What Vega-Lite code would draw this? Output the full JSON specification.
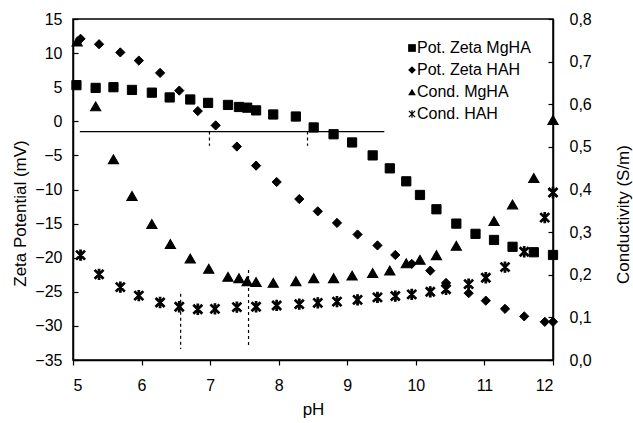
{
  "$schema": "https://vega.github.io/schema/vega-lite/v6.json",
  "autosize": {"type": "none"},
  "padding": {"left": 73, "top": 19, "right": 80, "bottom": 63},
  "width": 480,
  "height": 341,
  "background": "white",
  "config": {
    "view": {"stroke": "black", "strokeWidth": 1.5},
    "font": "Liberation Sans",
    "axis": {"grid": false, "domainColor": "black", "tickColor": "black", "labelColor": "black", "titleColor": "black", "labelFont": "Liberation Sans", "titleFont": "Liberation Sans", "labelFontSize": 16, "titleFontSize": 17, "titleFontWeight": "normal", "domainWidth": 1.5, "tickWidth": 1.2, "labelOverlap": false}
  },
  "datasets": {
    "zeta": [
      {"pH": 5.05, "zeta": 5.3, "series": "Pot. Zeta MgHA"},
      {"pH": 5.33, "zeta": 4.9, "series": "Pot. Zeta MgHA"},
      {"pH": 5.59, "zeta": 5.0, "series": "Pot. Zeta MgHA"},
      {"pH": 5.86, "zeta": 4.6, "series": "Pot. Zeta MgHA"},
      {"pH": 6.15, "zeta": 4.2, "series": "Pot. Zeta MgHA"},
      {"pH": 6.41, "zeta": 3.5, "series": "Pot. Zeta MgHA"},
      {"pH": 6.71, "zeta": 3.2, "series": "Pot. Zeta MgHA"},
      {"pH": 6.97, "zeta": 2.7, "series": "Pot. Zeta MgHA"},
      {"pH": 7.26, "zeta": 2.4, "series": "Pot. Zeta MgHA"},
      {"pH": 7.42, "zeta": 2.1, "series": "Pot. Zeta MgHA"},
      {"pH": 7.54, "zeta": 2.0, "series": "Pot. Zeta MgHA"},
      {"pH": 7.67, "zeta": 1.6, "series": "Pot. Zeta MgHA"},
      {"pH": 7.92, "zeta": 1.0, "series": "Pot. Zeta MgHA"},
      {"pH": 8.25, "zeta": 0.7, "series": "Pot. Zeta MgHA"},
      {"pH": 8.51, "zeta": -0.9, "series": "Pot. Zeta MgHA"},
      {"pH": 8.80, "zeta": -1.9, "series": "Pot. Zeta MgHA"},
      {"pH": 9.07, "zeta": -3.1, "series": "Pot. Zeta MgHA"},
      {"pH": 9.37, "zeta": -5.0, "series": "Pot. Zeta MgHA"},
      {"pH": 9.62, "zeta": -6.9, "series": "Pot. Zeta MgHA"},
      {"pH": 9.86, "zeta": -8.8, "series": "Pot. Zeta MgHA"},
      {"pH": 10.06, "zeta": -10.8, "series": "Pot. Zeta MgHA"},
      {"pH": 10.30, "zeta": -12.9, "series": "Pot. Zeta MgHA"},
      {"pH": 10.59, "zeta": -15.0, "series": "Pot. Zeta MgHA"},
      {"pH": 10.87, "zeta": -16.5, "series": "Pot. Zeta MgHA"},
      {"pH": 11.14, "zeta": -17.4, "series": "Pot. Zeta MgHA"},
      {"pH": 11.41, "zeta": -18.4, "series": "Pot. Zeta MgHA"},
      {"pH": 11.72, "zeta": -19.2, "series": "Pot. Zeta MgHA"},
      {"pH": 12.0, "zeta": -19.6, "series": "Pot. Zeta MgHA"},
      {"pH": 5.11, "zeta": 12.1, "series": "Pot. Zeta HAH"},
      {"pH": 5.38, "zeta": 11.3, "series": "Pot. Zeta HAH"},
      {"pH": 5.69, "zeta": 10.1, "series": "Pot. Zeta HAH"},
      {"pH": 5.96, "zeta": 8.9, "series": "Pot. Zeta HAH"},
      {"pH": 6.27, "zeta": 7.1, "series": "Pot. Zeta HAH"},
      {"pH": 6.55, "zeta": 4.5, "series": "Pot. Zeta HAH"},
      {"pH": 6.82, "zeta": 1.5, "series": "Pot. Zeta HAH"},
      {"pH": 7.08, "zeta": -0.6, "series": "Pot. Zeta HAH"},
      {"pH": 7.39, "zeta": -3.7, "series": "Pot. Zeta HAH"},
      {"pH": 7.67, "zeta": -6.5, "series": "Pot. Zeta HAH"},
      {"pH": 7.97, "zeta": -8.9, "series": "Pot. Zeta HAH"},
      {"pH": 8.30, "zeta": -11.4, "series": "Pot. Zeta HAH"},
      {"pH": 8.57, "zeta": -13.2, "series": "Pot. Zeta HAH"},
      {"pH": 8.85, "zeta": -14.9, "series": "Pot. Zeta HAH"},
      {"pH": 9.15, "zeta": -16.6, "series": "Pot. Zeta HAH"},
      {"pH": 9.44, "zeta": -18.2, "series": "Pot. Zeta HAH"},
      {"pH": 9.70, "zeta": -19.6, "series": "Pot. Zeta HAH"},
      {"pH": 9.94, "zeta": -20.9, "series": "Pot. Zeta HAH"},
      {"pH": 10.21, "zeta": -21.9, "series": "Pot. Zeta HAH"},
      {"pH": 10.44, "zeta": -23.7, "series": "Pot. Zeta HAH"},
      {"pH": 10.77, "zeta": -25.2, "series": "Pot. Zeta HAH"},
      {"pH": 11.02, "zeta": -26.3, "series": "Pot. Zeta HAH"},
      {"pH": 11.30, "zeta": -27.5, "series": "Pot. Zeta HAH"},
      {"pH": 11.58, "zeta": -28.6, "series": "Pot. Zeta HAH"},
      {"pH": 11.88, "zeta": -29.4, "series": "Pot. Zeta HAH"},
      {"pH": 12.0, "zeta": -29.4, "series": "Pot. Zeta HAH"}
    ],
    "cond": [
      {"pH": 5.06, "cond": 0.747, "series": "Cond. MgHA"},
      {"pH": 5.33, "cond": 0.595, "series": "Cond. MgHA"},
      {"pH": 5.59, "cond": 0.471, "series": "Cond. MgHA"},
      {"pH": 5.86, "cond": 0.385, "series": "Cond. MgHA"},
      {"pH": 6.15, "cond": 0.319, "series": "Cond. MgHA"},
      {"pH": 6.42, "cond": 0.272, "series": "Cond. MgHA"},
      {"pH": 6.71, "cond": 0.238, "series": "Cond. MgHA"},
      {"pH": 6.98, "cond": 0.214, "series": "Cond. MgHA"},
      {"pH": 7.26, "cond": 0.195, "series": "Cond. MgHA"},
      {"pH": 7.42, "cond": 0.192, "series": "Cond. MgHA"},
      {"pH": 7.54, "cond": 0.185, "series": "Cond. MgHA"},
      {"pH": 7.67, "cond": 0.183, "series": "Cond. MgHA"},
      {"pH": 7.92, "cond": 0.181, "series": "Cond. MgHA"},
      {"pH": 8.25, "cond": 0.185, "series": "Cond. MgHA"},
      {"pH": 8.51, "cond": 0.192, "series": "Cond. MgHA"},
      {"pH": 8.80, "cond": 0.192, "series": "Cond. MgHA"},
      {"pH": 9.07, "cond": 0.198, "series": "Cond. MgHA"},
      {"pH": 9.37, "cond": 0.204, "series": "Cond. MgHA"},
      {"pH": 9.62, "cond": 0.210, "series": "Cond. MgHA"},
      {"pH": 9.86, "cond": 0.227, "series": "Cond. MgHA"},
      {"pH": 10.06, "cond": 0.235, "series": "Cond. MgHA"},
      {"pH": 10.30, "cond": 0.246, "series": "Cond. MgHA"},
      {"pH": 10.59, "cond": 0.268, "series": "Cond. MgHA"},
      {"pH": 11.14, "cond": 0.326, "series": "Cond. MgHA"},
      {"pH": 11.41, "cond": 0.365, "series": "Cond. MgHA"},
      {"pH": 11.72, "cond": 0.427, "series": "Cond. MgHA"},
      {"pH": 12.0, "cond": 0.563, "series": "Cond. MgHA"},
      {"pH": 5.11, "cond": 0.246, "series": "Cond. HAH"},
      {"pH": 5.38, "cond": 0.201, "series": "Cond. HAH"},
      {"pH": 5.69, "cond": 0.171, "series": "Cond. HAH"},
      {"pH": 5.96, "cond": 0.151, "series": "Cond. HAH"},
      {"pH": 6.27, "cond": 0.135, "series": "Cond. HAH"},
      {"pH": 6.55, "cond": 0.125, "series": "Cond. HAH"},
      {"pH": 6.82, "cond": 0.119, "series": "Cond. HAH"},
      {"pH": 7.07, "cond": 0.120, "series": "Cond. HAH"},
      {"pH": 7.39, "cond": 0.124, "series": "Cond. HAH"},
      {"pH": 7.67, "cond": 0.125, "series": "Cond. HAH"},
      {"pH": 7.97, "cond": 0.128, "series": "Cond. HAH"},
      {"pH": 8.30, "cond": 0.131, "series": "Cond. HAH"},
      {"pH": 8.57, "cond": 0.134, "series": "Cond. HAH"},
      {"pH": 8.85, "cond": 0.137, "series": "Cond. HAH"},
      {"pH": 9.15, "cond": 0.141, "series": "Cond. HAH"},
      {"pH": 9.44, "cond": 0.147, "series": "Cond. HAH"},
      {"pH": 9.70, "cond": 0.150, "series": "Cond. HAH"},
      {"pH": 9.94, "cond": 0.154, "series": "Cond. HAH"},
      {"pH": 10.21, "cond": 0.160, "series": "Cond. HAH"},
      {"pH": 10.44, "cond": 0.166, "series": "Cond. HAH"},
      {"pH": 10.77, "cond": 0.178, "series": "Cond. HAH"},
      {"pH": 11.02, "cond": 0.193, "series": "Cond. HAH"},
      {"pH": 11.30, "cond": 0.218, "series": "Cond. HAH"},
      {"pH": 11.58, "cond": 0.254, "series": "Cond. HAH"},
      {"pH": 11.88, "cond": 0.334, "series": "Cond. HAH"},
      {"pH": 12.0, "cond": 0.393, "series": "Cond. HAH"}
    ],
    "hline": [{"pH": 5.1, "pH2": 9.54, "zeta": -1.5}],
    "vlines": [
      {"pH": 6.99, "zeta": -1.5, "zeta2": -3.6},
      {"pH": 8.42, "zeta": -1.5, "zeta2": -3.6},
      {"pH": 6.57, "zeta": -25.3, "zeta2": -33.4},
      {"pH": 7.56, "zeta": -21.8, "zeta2": -33.1}
    ]
  },
  "layer": [
    {
      "layer": [
        {
          "data": {"name": "hline"},
          "mark": {"type": "rule", "color": "black", "strokeWidth": 1.2},
          "encoding": {
            "x": {"field": "pH", "type": "quantitative", "scale": {"domain": [5, 12], "nice": false, "zero": false}, "axis": {"title": "pH", "values": [5, 6, 7, 8, 9, 10, 11, 12], "format": "d", "tickSize": 5, "labelPadding": 12, "titleY": 49, "titleBaseline": "middle", "labelOverlap": false}},
            "x2": {"field": "pH2"},
            "y": {"field": "zeta", "type": "quantitative", "scale": {"domain": [-35, 15], "nice": false, "zero": false}, "axis": {"title": "Zeta Potential (mV)", "values": [-35, -30, -25, -20, -15, -10, -5, 0, 5, 10, 15], "format": "d", "tickSize": -5, "labelPadding": 16, "titleX": -53, "titleY": 194, "titleBaseline": "middle", "titleAngle": -90, "labelOverlap": false}}
          }
        },
        {
          "data": {"name": "vlines"},
          "mark": {"type": "rule", "color": "black", "strokeWidth": 1.2, "strokeDash": [3, 3]},
          "encoding": {
            "x": {"field": "pH", "type": "quantitative", "scale": {"domain": [5, 12], "nice": false, "zero": false}, "axis": {"title": "pH", "values": [5, 6, 7, 8, 9, 10, 11, 12], "format": "d", "tickSize": 5, "labelPadding": 12, "titleY": 49, "titleBaseline": "middle", "labelOverlap": false}},
            "y": {"field": "zeta", "type": "quantitative", "scale": {"domain": [-35, 15], "nice": false, "zero": false}, "axis": {"title": "Zeta Potential (mV)", "values": [-35, -30, -25, -20, -15, -10, -5, 0, 5, 10, 15], "format": "d", "tickSize": -5, "labelPadding": 16, "titleX": -53, "titleY": 194, "titleBaseline": "middle", "titleAngle": -90, "labelOverlap": false}},
            "y2": {"field": "zeta2"}
          }
        },
        {
          "data": {"name": "zeta"},
          "mark": {"type": "point", "filled": true, "color": "black", "stroke": "black", "strokeWidth": 1, "opacity": 1},
          "encoding": {
            "x": {"field": "pH", "type": "quantitative", "scale": {"domain": [5, 12], "nice": false, "zero": false}, "axis": {"title": "pH", "values": [5, 6, 7, 8, 9, 10, 11, 12], "format": "d", "tickSize": 5, "labelPadding": 12, "titleY": 49, "titleBaseline": "middle", "labelOverlap": false}},
            "y": {"field": "zeta", "type": "quantitative", "scale": {"domain": [-35, 15], "nice": false, "zero": false}, "axis": {"title": "Zeta Potential (mV)", "values": [-35, -30, -25, -20, -15, -10, -5, 0, 5, 10, 15], "format": "d", "tickSize": -5, "labelPadding": 16, "titleX": -53, "titleY": 194, "titleBaseline": "middle", "titleAngle": -90, "labelOverlap": false}},
            "shape": {"field": "series", "type": "nominal", "scale": {"domain": ["Pot. Zeta MgHA", "Pot. Zeta HAH", "Cond. MgHA", "Cond. HAH"], "range": ["square", "diamond", "triangle-up", "M-0.16,-1L0.16,-1L0.16,1L-0.16,1ZM-0.91,-0.69L-0.69,-0.91L0.91,0.69L0.69,0.91ZM-0.91,0.69L0.69,-0.91L0.91,-0.69L-0.69,0.91Z"]}, "legend": {"title": null, "orient": "none", "legendX": 331, "legendY": 21, "labelFontSize": 16, "labelFont": "Liberation Sans", "labelColor": "black", "symbolSize": 60, "symbolFillColor": "black", "symbolStrokeColor": "black", "symbolStrokeWidth": 1, "rowPadding": 6, "labelOffset": -3}},
            "size": {"value": 85}
          }
        }
      ]
    },
    {
      "data": {"name": "cond"},
      "mark": {"type": "point", "filled": true, "color": "black", "stroke": "black", "strokeWidth": 1.1, "opacity": 1},
      "encoding": {
        "x": {"field": "pH", "type": "quantitative", "scale": {"domain": [5, 12], "nice": false, "zero": false}},
        "y": {"field": "cond", "type": "quantitative", "scale": {"domain": [0, 0.8], "nice": false}, "axis": {"orient": "right", "title": "Conductivity (S/m)", "values": [0, 0.1, 0.2, 0.3, 0.4, 0.5, 0.6, 0.7, 0.8], "labelExpr": "replace(format(datum.value, '.1f'), '.', ',')", "tickSize": -5, "labelPadding": 21, "titleX": 70, "titleY": 195, "titleBaseline": "middle", "titleAngle": -90, "labelOverlap": false}},
        "shape": {"field": "series", "type": "nominal"},
        "size": {"value": 105}
      }
    }
  ],
  "resolve": {"scale": {"y": "independent"}}
}
